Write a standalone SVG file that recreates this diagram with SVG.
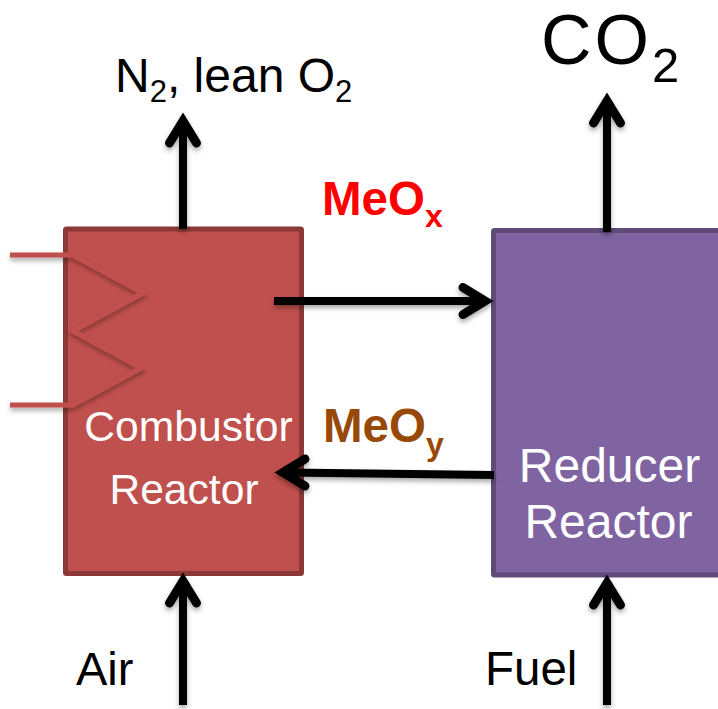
<svg xmlns="http://www.w3.org/2000/svg" width="718" height="709" viewBox="0 0 718 709">
<style>
text{font-family:"Liberation Sans",Arial,sans-serif}
.b{fill:#000}
.w{fill:#fff}
.big{font-size:48px}
.m{font-size:47.500px;font-weight:bold}
.ln{fill:none;stroke:#000;stroke-width:8}
.hd{fill:none;stroke:#000;stroke-width:9;stroke-linecap:round;stroke-linejoin:miter}
.coil{fill:none;stroke:#c0504d;stroke-width:5}
</style>
<defs>
<filter id="s" x="-30%" y="-30%" width="160%" height="160%"><feDropShadow dx="0" dy="3" stdDeviation="2.500" flood-color="#000" flood-opacity="0.350"/></filter>
</defs>
<g id="combustor">
<rect x="65.500" y="229" width="236" height="344.500" rx="1" fill="#c0504d" stroke="#8c3836" stroke-width="5"/>
<text class="w" x="188.500" y="441" font-size="42.600" text-anchor="middle">Combustor</text>
<text class="w" x="184" y="504" font-size="42.600" text-anchor="middle">Reactor</text>
</g>
<g id="reducer">
<rect x="493.500" y="230.500" width="230" height="344.500" rx="1" fill="#8064a2" stroke="#5f4a79" stroke-width="5"/>
<text class="w" x="609.500" y="482" font-size="48" text-anchor="middle">Reducer</text>
<text class="w" x="608.500" y="538" font-size="48" text-anchor="middle">Reactor</text>
</g>
<g id="coil" filter="url(#s)">
<path class="coil" d="M10 255H73L143 293L73 331L141 368L73 405H10"/>
</g>
<g id="connectors" filter="url(#s)">
<path class="ln" d="M183 229V125"/><path class="hd" d="M169.500 143L183 121L196.500 143"/>
<path class="ln" d="M607 232V105"/><path class="hd" d="M593.500 123L607 101L620.500 123"/>
<path class="ln" d="M274 301H481"/><path class="hd" d="M463 287.500L485 301L463 314.500"/>
<path class="ln" d="M494 475L287 472.500"/><path class="hd" d="M305 459L283 472.500L305 486"/>
<path class="ln" d="M183 705V585"/><path class="hd" d="M169.500 603L183 581L196.500 603"/>
<path class="ln" d="M607 705V587"/><path class="hd" d="M593.500 605L607 583L620.500 605"/>
</g>
<g id="labels">
<text class="b big" x="115" y="92">N<tspan font-size="31" dy="10">2</tspan><tspan dy="-10">, lean O</tspan><tspan font-size="31" dy="10">2</tspan></text>
<text class="b" x="541" y="63.500" font-size="70" letter-spacing="3">CO<tspan font-size="49" dy="18" letter-spacing="0">2</tspan></text>
<text class="m" x="322" y="215" fill="#f00">MeO<tspan font-size="32" dy="12">x</tspan></text>
<text class="m" x="323" y="442" fill="#984807">MeO<tspan font-size="32" dy="13">y</tspan></text>
<text class="b" x="76" y="685" font-size="47">Air</text>
<text class="b" x="485" y="685" font-size="47.500">Fuel</text>
</g>
</svg>
